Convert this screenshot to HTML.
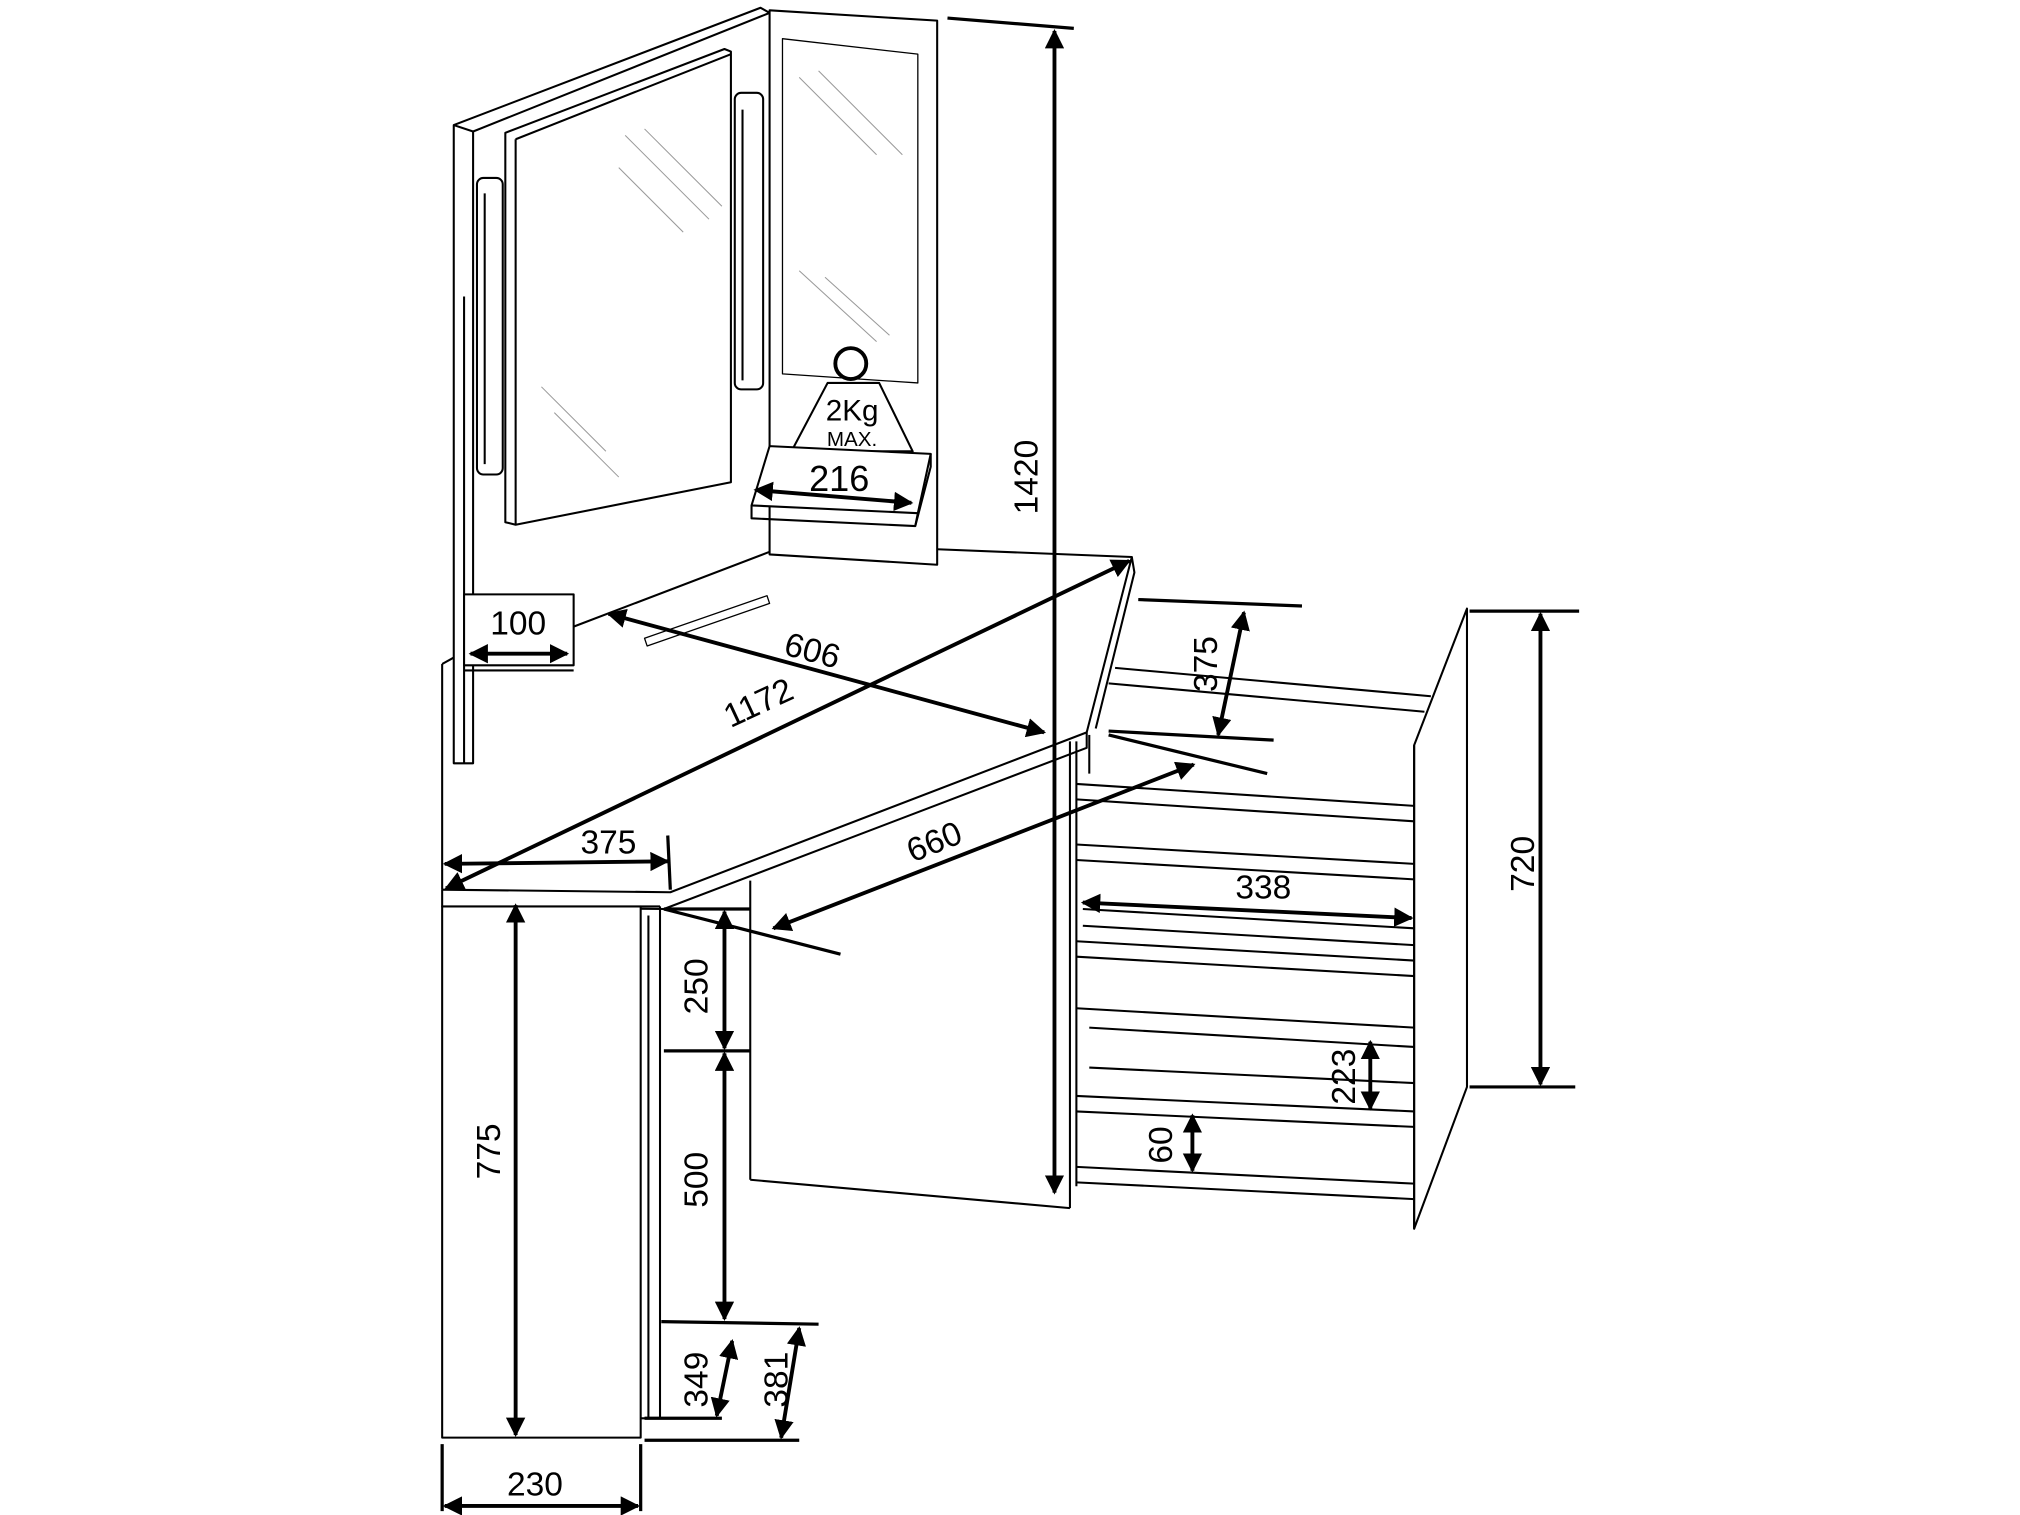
<!DOCTYPE html>
<html><head><meta charset="utf-8"><style>
html,body{margin:0;padding:0;background:#fff;}
svg{display:block}
text{font-family:"Liberation Sans",sans-serif;fill:#000}
</style></head><body>
<svg width="2020" height="1515" viewBox="0 0 1567 1175" preserveAspectRatio="none" xmlns="http://www.w3.org/2000/svg">
<defs>
<marker id="a" viewBox="0 0 10 10" refX="9" refY="5" markerWidth="5" markerHeight="5" orient="auto-start-reverse"><path d="M0,0 L10,5 L0,10 z" fill="#000"/></marker>
</defs>
<g fill="none" stroke="#000" stroke-width="1.6" stroke-linejoin="round">
<path d="M352,592 L352,97 L590,6 L597,10 L367,102 L367,592 Z" fill="#fff"/>
<line x1="352" y1="97" x2="367" y2="102"/>
<line x1="360" y1="230" x2="360" y2="592"/>
<path d="M392,103 L562,38 L567,40 L567,374 L400,407 L392,405 Z" fill="#fff"/>
<line x1="400" y1="108" x2="567" y2="42"/>
<line x1="400" y1="108" x2="400" y2="407"/>
<g stroke-width="0.8" stroke="#999"><line x1="485" y1="105" x2="550" y2="170"/><line x1="500" y1="100" x2="560" y2="160"/><line x1="480" y1="130" x2="530" y2="180"/><line x1="420" y1="300" x2="470" y2="350"/><line x1="430" y1="320" x2="480" y2="370"/></g>
<rect x="370" y="138" width="20" height="230" rx="5" fill="#fff"/>
<line x1="376" y1="150" x2="376" y2="360"/>
<rect x="570" y="72" width="22" height="230" rx="5" fill="#fff"/>
<line x1="576" y1="85" x2="576" y2="295"/>
<path d="M597,8 L727,16 L727,438 L597,430 Z" fill="#fff"/>
<path d="M607,30 L712,42 L712,297 L607,290 Z" stroke-width="1"/>
<g stroke-width="0.8" stroke="#999"><line x1="620" y1="60" x2="680" y2="120"/><line x1="635" y1="55" x2="700" y2="120"/><line x1="620" y1="210" x2="680" y2="265"/><line x1="640" y1="215" x2="690" y2="260"/></g>
<circle cx="660" cy="282" r="12" stroke-width="3"/>
<path d="M642,297 L682,297 L708,350 L614,350 Z" fill="#fff"/>
<path d="M597,346 L722,352 L712,398 L583,392 Z" fill="#fff"/>
<path d="M583,392 L583,402 L710,408 L712,398"/>
<path d="M710,408 L722,362 L722,352"/>
<path d="M343,690 L520,692 L843,568 L878,432 L727,426 M597,428 L445,486" />
<path d="M343,690 L343,703 L515,705 L843,580 L843,568 M878,432 L880,444 L850,565"/>
<line x1="343" y1="515" x2="343" y2="690"/>
<line x1="343" y1="515" x2="352" y2="510"/>
<rect x="360" y="461" width="85" height="55" fill="#fff"/>
<line x1="360" y1="520" x2="445" y2="520"/>
<path d="M500,495 L595,462 L597,468 L502,501 Z" stroke-width="1"/>
<rect x="343" y="703" width="154" height="412" fill="#fff"/>
<line x1="497" y1="703" x2="512" y2="703"/>
<line x1="512" y1="703" x2="512" y2="1100"/>
<line x1="503" y1="710" x2="503" y2="1100"/>
<line x1="497" y1="1100" x2="512" y2="1100"/>
<line x1="582" y1="683" x2="582" y2="915"/>
<line x1="582" y1="915" x2="830" y2="937"/>
<line x1="830" y1="575" x2="830" y2="937"/>
<path d="M1097,578 L1138,472 L1138,843 L1097,953 Z" fill="#fff"/>
<line x1="1097" y1="578" x2="1097" y2="953"/>
<line x1="835" y1="575" x2="835" y2="920"/>
<line x1="845" y1="570" x2="845" y2="600"/>
<path d="M865,518 L1110,540 M860,530 L1105,552"/>
<path d="M835,608 L1097,625 M835,620 L1097,637"/>
<path d="M835,655 L1097,670 M835,667 L1097,682"/>
<path d="M840,705 L1097,720 M840,718 L1097,733"/>
<path d="M835,730 L1097,745 M835,742 L1097,757"/>
<path d="M835,782 L1097,797 M845,797 L1097,812"/>
<path d="M845,828 L1097,840"/>
<path d="M835,850 L1097,862 M835,862 L1097,874"/>
<path d="M835,905 L1097,918 M835,917 L1097,930"/>
</g>
<g stroke="#000" stroke-width="2.5" fill="none">
<line x1="735" y1="14" x2="833" y2="22"/>
<line x1="518" y1="648" x2="520" y2="690"/>
<line x1="515" y1="705" x2="652" y2="740"/>
<line x1="860" y1="570" x2="983" y2="600"/>
<line x1="515" y1="705" x2="582" y2="705"/>
<line x1="515" y1="815" x2="582" y2="815"/>
<line x1="513" y1="1025" x2="635" y2="1027"/>
<line x1="500" y1="1100" x2="560" y2="1100"/>
<line x1="500" y1="1117" x2="620" y2="1117"/>
<line x1="343" y1="1120" x2="343" y2="1172"/>
<line x1="497" y1="1120" x2="497" y2="1172"/>
<line x1="883" y1="465" x2="1010" y2="470"/>
<line x1="860" y1="567" x2="988" y2="574"/>
<line x1="1140" y1="474" x2="1225" y2="474"/>
<line x1="1140" y1="843" x2="1222" y2="843"/>
</g>
<g stroke="#000" stroke-width="3" fill="none" marker-start="url(#a)" marker-end="url(#a)">
<line x1="818" y1="24" x2="818" y2="925"/>
<line x1="586" y1="380" x2="707" y2="390"/>
<line x1="365" y1="507" x2="440" y2="507"/>
<line x1="472" y1="476" x2="810" y2="568"/>
<line x1="346" y1="689" x2="876" y2="435"/>
<line x1="345" y1="670" x2="518" y2="668"/>
<line x1="600" y1="720" x2="926" y2="593"/>
<line x1="562" y1="707" x2="562" y2="813"/>
<line x1="562" y1="817" x2="562" y2="1023"/>
<line x1="400" y1="702" x2="400" y2="1113"/>
<line x1="345" y1="1168" x2="495" y2="1168"/>
<line x1="568" y1="1040" x2="556" y2="1098"/>
<line x1="620" y1="1030" x2="606" y2="1115"/>
<line x1="965" y1="475" x2="945" y2="570"/>
<line x1="1195" y1="476" x2="1195" y2="841"/>
<line x1="840" y1="700" x2="1095" y2="712"/>
<line x1="1063" y1="808" x2="1063" y2="860"/>
<line x1="925" y1="865" x2="925" y2="908"/>
</g>
<g font-size="26" text-anchor="middle">
<text x="661" y="326" font-size="23">2Kg</text>
<text x="661" y="346" font-size="16">MAX.</text>
<text x="651" y="381" font-size="28">216</text>
<text x="402" y="492">100</text>
<text x="472" y="662">375</text>
<text x="980" y="697">338</text>
<text x="415" y="1160">230</text>
<text transform="translate(628,513) rotate(15)">606</text>
<text transform="translate(592,553) rotate(-25)">1172</text>
<text transform="translate(728,661) rotate(-22)">660</text>
<text transform="translate(805,370) rotate(-90)">1420</text>
<text transform="translate(549,765) rotate(-90)">250</text>
<text transform="translate(549,915) rotate(-90)">500</text>
<text transform="translate(388,893) rotate(-90)">775</text>
<text transform="translate(549,1070) rotate(-90)">349</text>
<text transform="translate(611,1070) rotate(-90)">381</text>
<text transform="translate(944,515) rotate(-90)">375</text>
<text transform="translate(1190,670) rotate(-90)">720</text>
<text transform="translate(1051,835) rotate(-90)">223</text>
<text transform="translate(909,888) rotate(-90)">60</text>
</g>
</svg>
</body></html>
